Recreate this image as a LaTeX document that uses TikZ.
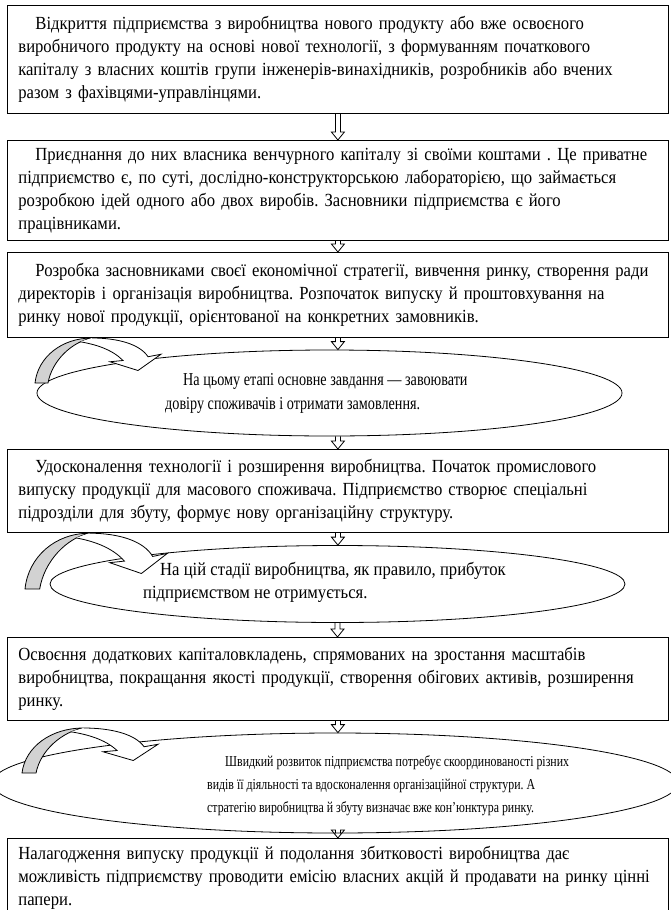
\documentclass[tikz,border=0pt]{standalone}
\usepackage{fontspec}
\setmainfont[FakeStretch=0.9]{Liberation Serif}
\newfontfamily\slimfont[FakeStretch=0.78]{Liberation Serif}
\usetikzlibrary{calc,shapes.geometric}
\frenchspacing

\begin{document}
\begin{tikzpicture}[x=1pt,y=-1pt,
    every node/.style={font=\fontsize{18.5}{23}\selectfont},
    stage/.style={draw, line width=0.8pt, rectangle, anchor=north west, text width=639pt, inner xsep=11pt, inner ysep=0pt, align=left},
    oval/.style={draw, line width=0.8pt, ellipse, inner sep=0pt},
    note/.style={anchor=west, align=left, inner sep=0pt},
    hollow/.style={line width=0.8pt, to path={let \p1=(\tikztostart), \p2=(\tikztotarget) in
       (\x1-2.5pt,\y1) -- (\x1-2.5pt,\y2+8pt) -- (\x1-6.5pt,\y2+8pt) -- (\x1,\y2) -- (\x1+6.5pt,\y2+8pt) -- (\x1+2.5pt,\y2+8pt) -- (\x1+2.5pt,\y1)}},
    bend/.pic={
       \draw[line width=0.8pt, fill=gray!35] (0,0) .. controls (3,-21) and (27,-36) .. (57,-36) .. controls (37,-33) and (17,-18) .. (13,0) -- cycle;
       \draw[line width=0.8pt, fill=white] (57,-36) .. controls (83,-36) and (105,-31) .. (113,-21) -- (126,-23) -- (103,-10) -- (75,-17) -- (88,-18) .. controls (77,-27) and (60,-31) .. (45,-33);
    }]
   \useasboundingbox (0,0) rectangle (670,910);

   \node[stage, minimum height=108pt] (s1) at (7,5) {\hspace*{17pt}Відкриття підприємства з виробництва нового продукту або вже освоєного\\
      виробничого продукту на основі нової технології, з формуванням початкового\\
      капіталу з власних коштів групи інженерів-винахідників, розробників або вчених\\
      разом з фахівцями-управлінцями.};
   \node[stage, minimum height=100pt] (s2) at (7,140) {\hspace*{17pt}Приєднання до них власника венчурного капіталу зі своїми коштами . Це приватне\\
      підприємство є, по суті, дослідно-конструкторською лабораторією, що займається\\
      розробкою ідей одного або двох виробів. Засновники підприємства є його\\
      працівниками.};
   \node[stage, minimum height=85pt] (s3) at (7,252) {\hspace*{17pt}Розробка засновниками своєї економічної стратегії, вивчення ринку, створення ради\\
      директорів і організація виробництва. Розпочаток випуску й проштовхування на\\
      ринку нової продукції, орієнтованої на конкретних замовників.};
   \node[oval, minimum width=585pt, minimum height=86pt] (e1) at (329.5,393) {};
   \node[note, font=\slimfont\fontsize{18.2}{24}\selectfont] (n1) at (165,393) {\hspace*{18pt}На цьому етапі основне завдання — завоювати\\
      довіру споживачів і отримати замовлення.};
   \node[stage, minimum height=83pt] (s4) at (7,449) {\hspace*{17pt}Удосконалення технології і розширення виробництва. Початок промислового\\
      випуску продукції для масового споживача. Підприємство створює спеціальні\\
      підрозділи для збуту, формує нову організаційну структуру.};
   \node[oval, minimum width=575pt, minimum height=77pt] (e2) at (337.5,584) {};
   \node[note] (n2) at (143,582) {\hspace*{17pt}На цій стадії виробництва, як правило, прибуток\\
      підприємством не отримується.};
   \node[stage, minimum height=83pt] (s5) at (7,637) {Освоєння додаткових капіталовкладень, спрямованих на зростання масштабів\\
      виробництва, покращання якості продукції, створення обігових активів, розширення\\
      ринку.};
   \node[oval, minimum width=686pt, minimum height=100pt] (e3) at (335,783) {};
   \node[note, font=\slimfont\fontsize{15.2}{23}\selectfont] (n3) at (207,786) {\hspace*{18pt}Швидкий розвиток підприємства потребує скоординованості різних\\
      видів її діяльності та вдосконалення організаційної структури. А\\
      стратегію виробництва й збуту визначає вже кон’юнктура ринку.};
   \node[stage, minimum height=78pt] (s6) at (7,838) {Налагодження випуску продукції й подолання збитковості виробництва дає\\
      можливість підприємству проводити емісію власних акцій й продавати на ринку цінні\\
      папери.};

   \draw[hollow] (s1.south) to (s2.north);
   \draw[hollow] (s2.south) to (s3.north);
   \draw[hollow] (s3.south) to (e1.north);
   \draw[hollow] (s4.north |- e1.south) to (s4.north);
   \draw[hollow] (s4.south) to (e2.north);
   \draw[hollow] (e2.south) to (s5.north);
   \draw[hollow] (s5.south) to (s5.south |- e3.north);
   \draw[hollow] (s6.north |- e3.south) to (s6.north);

   \pic[yscale=1.25] at (35,383) {bend};
   \pic[xscale=1.13, yscale=1.55] at (25,589) {bend};
   \pic[xscale=1.08, yscale=1.25] at (22,773) {bend};
 \end{tikzpicture}
\end{document}
